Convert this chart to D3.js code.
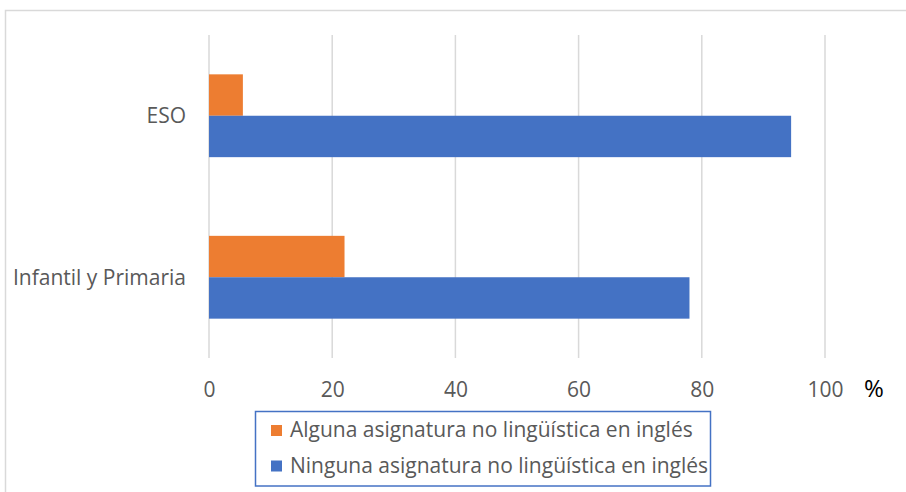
<!DOCTYPE html>
<html>
<head>
<meta charset="utf-8">
<script src="https://cdn.jsdelivr.net/npm/d3@7"></script>
<style>
  html, body { margin: 0; padding: 0; background: #fff; }
  svg { display: block; }
  text { font-family: "Open Sans", Lato, sans-serif; }
</style>
</head>
<body>
<svg id="chart" width="906" height="492"></svg>
<script>
// Share of schools by stage, split by whether any non-language subject is taught in English
const categories = ["ESO", "Infantil y Primaria"];
const seriesNames = [
  "Alguna asignatura no lingüística en inglés",
  "Ninguna asignatura no lingüística en inglés"
];
const alguna = [5.5, 22];
const ninguna = [94.5, 78];
const tickValues = [0, 20, 40, 60, 80, 100];
const seriesColors = ["#ED7D31", "#4472C4"];

const svg = d3.select("#chart");
const W = 906, H = 492;
const plot = { left: 209, right: 825, top: 35, bottom: 358 };
const font = "'Open Sans', Lato, sans-serif";

// outer frame (top and left edges)
svg.append("path")
  .attr("d", `M5.5,${H} V10.5 H${W}`)
  .attr("fill", "none")
  .attr("stroke", "#D9D9D9")
  .attr("stroke-width", 1.5);

const x = d3.scaleLinear().domain([0, 100]).range([plot.left, plot.right]);
const y = d3.scaleBand().domain(categories).range([plot.top, plot.bottom]).paddingInner(0).paddingOuter(0);
const inner = d3.scaleBand().domain(seriesNames).range([0, y.bandwidth()]).paddingInner(0).paddingOuter(0.95);

// vertical gridlines
svg.append("g")
  .selectAll("line")
  .data(tickValues)
  .join("line")
  .attr("x1", d => x(d)).attr("x2", d => x(d))
  .attr("y1", plot.top).attr("y2", plot.bottom)
  .attr("stroke", "#D9D9D9")
  .attr("stroke-width", 1.5);

// bars
const rows = categories.map((c, i) => ({ cat: c, vals: [alguna[i], ninguna[i]] }));
const groups = svg.append("g").selectAll("g")
  .data(rows)
  .join("g")
  .attr("transform", d => `translate(0,${y(d.cat)})`);

groups.selectAll("rect")
  .data(d => d.vals.map((v, j) => ({ v, name: seriesNames[j], color: seriesColors[j] })))
  .join("rect")
  .attr("x", x(0))
  .attr("y", d => inner(d.name))
  .attr("width", d => x(d.v) - x(0))
  .attr("height", inner.bandwidth())
  .attr("fill", d => d.color);

// x axis labels
const xAxis = d3.axisBottom(x).tickValues(tickValues).tickSize(0).tickPadding(0);
const gx = svg.append("g")
  .attr("transform", `translate(0,${plot.bottom})`)
  .call(xAxis);
gx.select(".domain").remove();
gx.selectAll("text")
  .attr("y", 39)
  .attr("dy", null)
  .attr("fill", "#595959")
  .style("font-size", "21px")
  .style("font-family", font);

// category labels
const yAxis = d3.axisLeft(y).tickSize(0).tickPadding(23);
const gy = svg.append("g")
  .attr("transform", `translate(${plot.left},0)`)
  .call(yAxis);
gy.select(".domain").remove();
gy.selectAll("text")
  .attr("dy", "0.35em")
  .attr("fill", "#595959")
  .style("font-size", "21px")
  .style("font-family", font);

// unit label
svg.append("text")
  .attr("x", 874)
  .attr("y", 397)
  .attr("text-anchor", "middle")
  .attr("fill", "#000")
  .style("font-size", "24px")
  .text("%");

// legend
const legend = svg.append("g");
legend.append("rect")
  .attr("x", 255.5).attr("y", 411.5)
  .attr("width", 455).attr("height", 74.5)
  .attr("fill", "#fff")
  .attr("stroke", "#4472C4")
  .attr("stroke-width", 1.5);

const items = legend.selectAll("g.item")
  .data(seriesNames)
  .join("g")
  .attr("class", "item")
  .attr("transform", (d, i) => `translate(271,${i * 35.5})`);
items.append("rect")
  .attr("x", 0).attr("y", 425)
  .attr("width", 11).attr("height", 11)
  .attr("fill", (d, i) => seriesColors[i]);
items.append("text")
  .attr("x", 19).attr("y", 437)
  .attr("fill", "#595959")
  .style("font-size", "21px")
  .text(d => d);
</script>
</body>
</html>
